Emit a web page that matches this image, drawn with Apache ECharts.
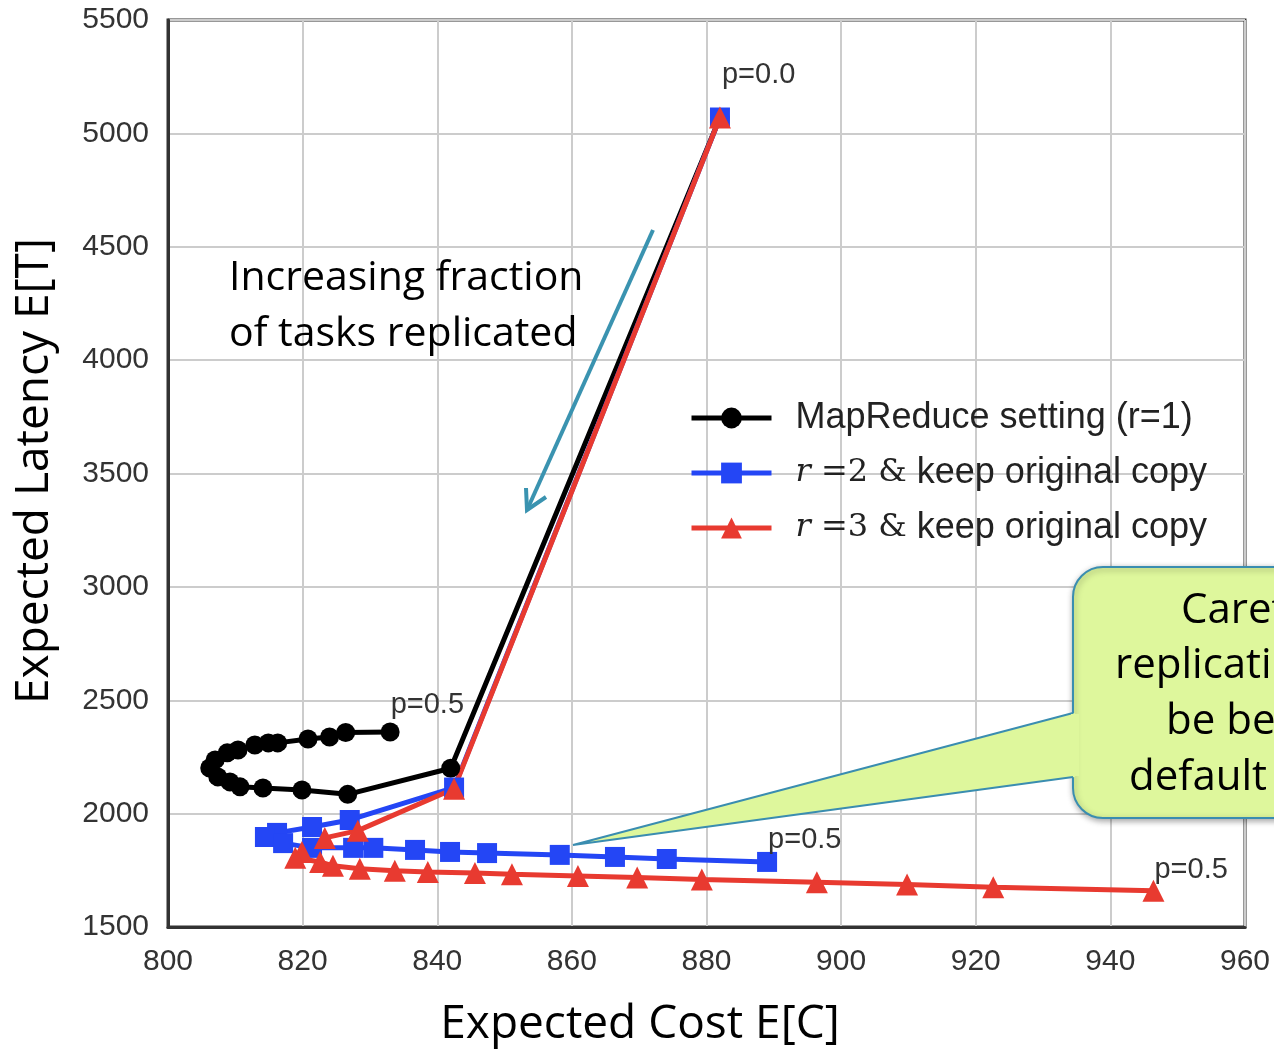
<!DOCTYPE html>
<html>
<head>
<meta charset="utf-8">
<script src="https://cdn.jsdelivr.net/npm/echarts@6.0.0/dist/echarts.min.js"></script>
<style>
  html, body { margin: 0; padding: 0; background: #fff; }
  #chart { width: 1274px; height: 1049px; }
</style>
</head>
<body>
<div id="chart"></div>
<script>
// p goes from 0.0 (first point) to 0.5 (last point)
const mapReduceCost    = [882, 842, 826.7, 819.9, 814.1, 810.7, 809.2, 807.4, 806.2, 807, 808.8, 810.4, 812.9, 814.9, 816.3, 820.8, 824, 826.4, 833];
const mapReduceLatency = [5070, 2200, 2085, 2104, 2113, 2118, 2140, 2162, 2201, 2237, 2268, 2281, 2303, 2312, 2312, 2329, 2338, 2358, 2360];

const r2Cost    = [882, 842.5, 827, 821.4, 816.2, 814.4, 817.1, 821.4, 827.5, 830.5, 836.7, 841.9, 847.4, 858.2, 866.4, 874.1, 889];
const r2Latency = [5070, 2115, 1972, 1941, 1915, 1897, 1870, 1849, 1849, 1849, 1840, 1831, 1826, 1818, 1809, 1800, 1787];

const r3Cost    = [882, 842.5, 828.2, 823.3, 819.9, 818.9, 822.6, 824.5, 828.5, 833.7, 838.6, 845.6, 851.1, 860.9, 869.7, 879.3, 896.4, 909.8, 922.6, 946.4];
const r3Latency = [5070, 2110, 1925, 1893, 1831, 1805, 1787, 1770, 1757, 1748, 1743, 1738, 1733, 1725, 1718, 1710, 1697, 1687, 1675, 1660];

const seriesNames = ['MapReduce setting (r=1)', 'r=2 & keep original copy', 'r=3 & keep original copy'];
const xMin = 800, xMax = 960, xStep = 20;
const yMin = 1500, yMax = 5500, yStep = 500;

const chart = echarts.init(document.getElementById('chart'));

function pLabel(text, pos) {
  return {
    show: true,
    formatter: text,
    position: pos,
    color: '#333',
    fontSize: 29,
    fontFamily: 'Liberation Sans'
  };
}

function buildData(cost, lat, labels) {
  const data = cost.map((c, i) => ({ value: [c, lat[i]] }));
  labels.forEach(l => { data[l.idx].label = pLabel(l.text, l.pos); });
  return data;
}

const noteFont = 'Open Sans';
const calloutFill = '#def79c';
const calloutStroke = '#3a8db0';

var option = {
  animation: false,
  grid: {
    left: 168,
    right: 29,
    top: 20,
    bottom: 122,
    show: true,
    borderColor: '#333',
    borderWidth: 3,
    backgroundColor: '#fff'
  },
  xAxis: {
    type: 'value',
    min: xMin,
    max: xMax,
    interval: xStep,
    axisLine: { show: true, lineStyle: { color: '#333', width: 3 } },
    axisTick: { show: false },
    axisLabel: { color: '#333', fontSize: 30, fontFamily: 'Liberation Sans', margin: 20, formatter: v => String(v) },
    splitLine: { show: true, lineStyle: { color: '#cccccc', width: 2 } }
  },
  yAxis: {
    type: 'value',
    min: yMin,
    max: yMax,
    interval: yStep,
    axisLine: { show: true, lineStyle: { color: '#333', width: 3 } },
    axisTick: { show: false },
    axisLabel: { color: '#333', fontSize: 30, fontFamily: 'Liberation Sans', margin: 19, formatter: v => String(v) },
    splitLine: { show: true, lineStyle: { color: '#cccccc', width: 2 } }
  },
  legend: {
    orient: 'vertical',
    left: 689,
    top: 400,
    padding: 0,
    itemWidth: 80,
    itemHeight: 26,
    itemGap: 19,
    data: seriesNames,
    lineStyle: { width: 5 },
    textStyle: {
      color: '#222',
      fontSize: 36,
      fontFamily: 'Liberation Sans',
      padding: [0, 0, 0, 19],
      rich: {
        m: { fontFamily: 'DejaVu Serif', fontStyle: 'italic', fontSize: 32, color: '#222' },
        s: { fontFamily: 'DejaVu Serif', fontSize: 32, color: '#222' },
        t: { fontFamily: 'Liberation Sans', fontSize: 36, color: '#222' }
      }
    },
    formatter: function (name) {
      if (name === seriesNames[1]) return '{m|r}{s| =2 &}{t| keep original copy}';
      if (name === seriesNames[2]) return '{m|r}{s| =3 &}{t| keep original copy}';
      return name;
    }
  },
  series: [
    {
      name: seriesNames[0],
      type: 'line',
      symbol: 'circle',
      symbolSize: 19,
      color: '#000',
      lineStyle: { width: 5, color: '#000' },
      itemStyle: { color: '#000' },
      data: buildData(mapReduceCost, mapReduceLatency, [
        { idx: mapReduceCost.length - 1, text: 'p=0.5', pos: [10, -32] }
      ])
    },
    {
      name: seriesNames[1],
      type: 'line',
      symbol: 'rect',
      symbolSize: 20,
      color: '#2446f5',
      lineStyle: { width: 5, color: '#2446f5' },
      itemStyle: { color: '#2446f5' },
      data: buildData(r2Cost, r2Latency, [
        { idx: 0, text: 'p=0.0', pos: [12, -47] },
        { idx: r2Cost.length - 1, text: 'p=0.5', pos: [11, -26] }
      ])
    },
    {
      name: seriesNames[2],
      type: 'line',
      symbol: 'triangle',
      symbolSize: 22,
      color: '#e83a30',
      lineStyle: { width: 5, color: '#e83a30' },
      itemStyle: { color: '#e83a30' },
      data: buildData(r3Cost, r3Latency, [
        { idx: r3Cost.length - 1, text: 'p=0.5', pos: [12, -24] }
      ])
    }
  ],
  graphic: [
    // axis titles
    {
      type: 'text', x: 35, y: 471, rotation: Math.PI / 2, z: 10,
      style: { text: 'Expected Latency E[T]', fontSize: 46, fontFamily: noteFont, fill: '#000', align: 'center', verticalAlign: 'middle' }
    },
    {
      type: 'text', x: 640, y: 1025, z: 10,
      style: { text: 'Expected Cost E[C]', fontSize: 46, fontFamily: noteFont, fill: '#000', align: 'center', verticalAlign: 'middle' }
    },
    // "increasing fraction" note and arrow
    {
      type: 'text', x: 229, y: 278, z: 10,
      style: { text: 'Increasing fraction', fontSize: 41, fontFamily: noteFont, fill: '#000', align: 'left', verticalAlign: 'middle' }
    },
    {
      type: 'text', x: 229, y: 334, z: 10,
      style: { text: 'of tasks replicated', fontSize: 41, fontFamily: noteFont, fill: '#000', align: 'left', verticalAlign: 'middle' }
    },
    {
      type: 'polyline', z: 10,
      shape: { points: [[653, 230], [527, 510]] },
      style: { stroke: '#3a93b0', lineWidth: 4, fill: null }
    },
    {
      type: 'polyline', z: 10,
      shape: { points: [[546, 497], [527, 510], [526, 488]] },
      style: { stroke: '#3a93b0', lineWidth: 4, fill: null }
    },
    // callout box: rounded body, tail, and a patch hiding the body edge behind the tail
    {
      type: 'rect', z: 20,
      shape: { x: 1073, y: 567, width: 240, height: 251, r: 30 },
      style: {
        fill: calloutFill, stroke: calloutStroke, lineWidth: 2,
        shadowBlur: 6, shadowColor: 'rgba(0,0,0,0.35)', shadowOffsetX: 1, shadowOffsetY: 2
      }
    },
    {
      type: 'polygon', z: 21,
      shape: { points: [[1075, 713], [573, 845], [1075, 777]] },
      style: { fill: calloutFill }
    },
    {
      type: 'polyline', z: 22,
      shape: { points: [[1073, 713], [573, 845], [1073, 777]] },
      style: { stroke: calloutStroke, lineWidth: 2, fill: null }
    },
    {
      type: 'rect', z: 22,
      shape: { x: 1071, y: 714, width: 8, height: 62 },
      style: { fill: calloutFill }
    },
    {
      type: 'text', x: 1181, y: 611, z: 23,
      style: { text: 'Careful', fontSize: 42, fontFamily: noteFont, fill: '#000', align: 'left', verticalAlign: 'middle' }
    },
    {
      type: 'text', x: 1115, y: 666, z: 23,
      style: { text: 'replication can', fontSize: 42, fontFamily: noteFont, fill: '#000', align: 'left', verticalAlign: 'middle' }
    },
    {
      type: 'text', x: 1166, y: 722, z: 23,
      style: { text: 'be better', fontSize: 42, fontFamily: noteFont, fill: '#000', align: 'left', verticalAlign: 'middle' }
    },
    {
      type: 'text', x: 1129, y: 778, z: 23,
      style: { text: 'default setting', fontSize: 42, fontFamily: noteFont, fill: '#000', align: 'left', verticalAlign: 'middle' }
    }
  ]
};

chart.setOption(option);
</script>
</body>
</html>
